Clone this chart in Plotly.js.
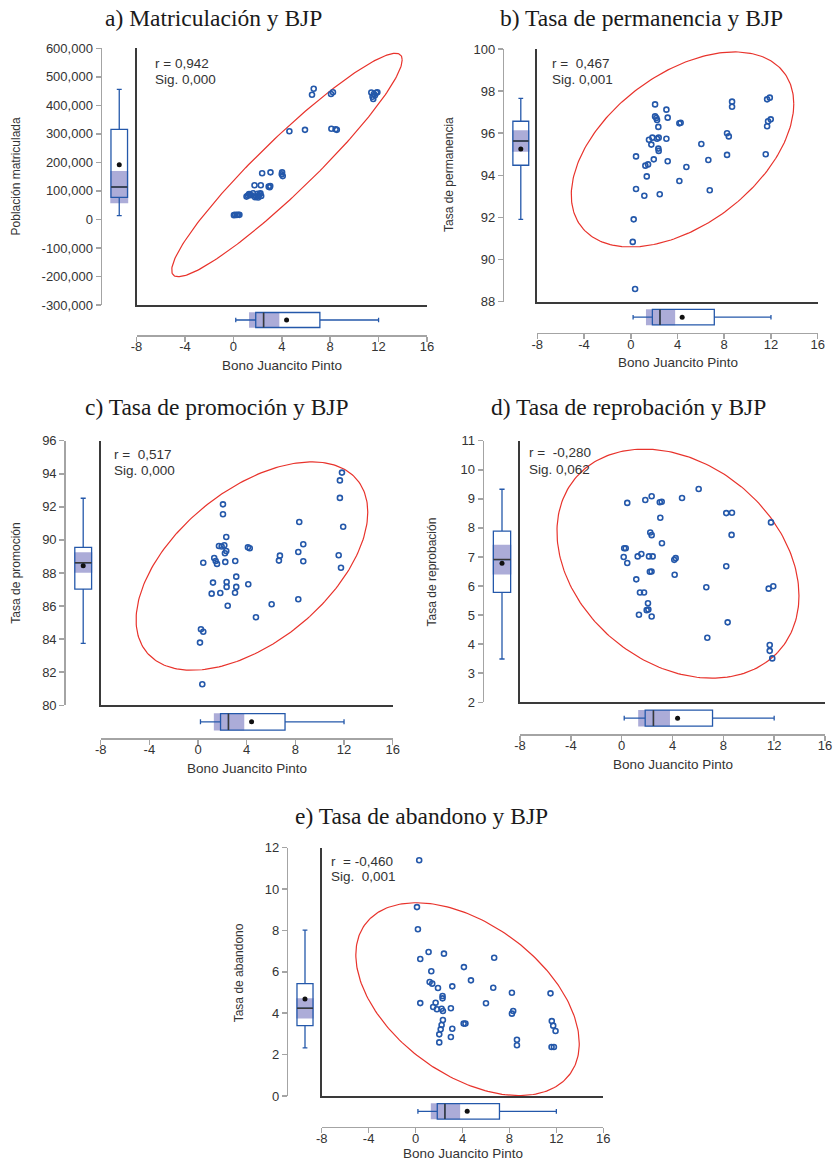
<!DOCTYPE html>
<html><head><meta charset="utf-8">
<script src="https://cdn.plot.ly/plotly-3.0.1.min.js"></script>
<style>html,body{margin:0;padding:0;background:#fff}#chart{width:834px;height:1161px}</style>
</head><body><div id="chart"></div>
<script>
// ---------------- DATA ----------------
const xTickVals = [-8,-4,0,4,8,12,16];
const xTickText = ['-8','-4','0','4','8','12','16'];

const titles = ['a) Matriculación y BJP','b) Tasa de permanencia y BJP','c) Tasa de promoción y BJP','d) Tasa de reprobación y BJP','e) Tasa de abandono y BJP'];
const yTitles = ['Población matriculada','Tasa de permanencia','Tasa de promoción','Tasa de reprobación','Tasa de abandono'];
const xTitle = 'Bono Juancito Pinto';
const rTexts = ['r = 0,942','r =  0,467','r =  0,517','r =  -0,280','r  = -0,460'];
const sigTexts = ['Sig. 0,000','Sig. 0,001','Sig. 0,000','Sig. 0,062','Sig.  0,001'];

const yTickValsA = [-300000,-200000,-100000,0,100000,200000,300000,400000,500000,600000];
const yTickTextA = ['-300,000','-200,000','-100,000','0','100,000','200,000','300,000','400,000','500,000','600,000'];
const yTickValsB = [88,90,92,94,96,98,100];
const yTickValsC = [80,82,84,86,88,90,92,94,96];
const yTickValsD = [2,3,4,5,6,7,8,9,10,11];
const yTickValsE = [0,2,4,6,8,10,12];

const xA = [0.05,0.15,0.28,0.38,0.5, 1.09,1.3,1.63,1.91,2.05,2.19,2.24,1.36,2.1,1.2,1.5,2.0,1.8,2.3, 1.75,2.27, 2.92,3.0,3.05, 2.38,3.07,4.03,4.08,4.0, 4.63,5.92,8.1,8.45,8.55, 6.64,6.5,8.07,8.23, 11.4,11.61,11.81,11.5,11.56,11.9,11.7];
const yA = [15000,16000,15500,16500,16000, 80000,89000,92000,80000,77000,89000,92000,86000,83000,84000,85000,90000,78000,82000, 120000,120000, 115000,113000,117000, 162000,165000,165000,152000,158000, 309000,314000,318000,316000,314000, 458000,437000,440000,446000, 445000,440000,444000,430000,422000,446000,435000];

const xB = [2.08,3.05,8.67,8.67,11.67,11.9,2.08,2.19,2.25,3.16,4.16,4.27,2.36,11.75,11.98,11.67,1.85,1.56,2.25,2.39,3.05,1.76,2.36,2.39,6.04,8.24,8.39,0.45,1.97,3.16,6.64,8.24,11.55,1.25,1.48,4.76,1.37,4.16,0.45,1.16,2.48,6.76,0.25,0.17,0.37];
const yB = [97.37,97.12,97.5,97.26,97.61,97.69,96.8,96.72,96.63,96.74,96.47,96.5,96.3,96.57,96.66,96.33,95.79,95.69,95.74,95.79,95.74,95.46,95.27,95.16,95.49,96.0,95.85,94.9,94.76,94.67,94.73,94.97,95.0,94.46,94.52,94.4,93.95,93.73,93.35,93.03,93.1,93.29,91.91,90.84,88.6];

const xC = [11.83,11.66,11.66,11.93,2.05,2.05,8.32,2.32,1.72,1.94,2.16,2.32,2.21,4.1,4.25,8.65,8.24,6.73,6.65,8.65,11.56,11.75,0.43,1.33,1.45,1.56,2.24,3.06,3.14,1.23,2.35,2.35,3.14,4.13,1.12,1.83,3.04,2.44,8.24,6.05,4.76,0.24,0.43,0.16,0.35];
const yC = [94.07,93.6,92.54,90.8,92.15,91.55,91.08,90.18,89.63,89.6,89.68,89.33,89.19,89.55,89.5,89.74,89.27,89.05,88.75,88.71,89.07,88.32,88.62,88.91,88.73,88.55,88.67,88.73,87.78,87.42,87.46,87.16,87.16,87.32,86.75,86.79,86.81,86.02,86.41,86.11,85.32,84.6,84.45,83.79,81.27];

const xD = [6.06,0.44,1.86,2.36,3.0,3.15,4.75,8.23,8.68,11.75,3.04,2.25,2.36,8.65,3.17,0.2,0.32,0.16,1.26,1.55,2.15,2.44,4.14,4.25,0.44,8.23,2.22,2.35,4.17,1.15,6.66,11.57,11.93,1.44,1.76,2.07,1.97,2.1,1.36,2.36,8.34,6.74,11.65,11.65,11.85];
const yD = [9.34,8.86,8.96,9.09,8.88,8.9,9.03,8.51,8.52,8.19,8.35,7.84,7.75,7.76,7.47,7.3,7.3,7.0,7.02,7.1,7.02,7.02,6.9,6.96,6.79,6.68,6.49,6.5,6.39,6.23,5.96,5.91,5.99,5.78,5.78,5.41,5.17,5.19,5.01,4.95,4.75,4.22,3.97,3.77,3.51];

const xE = [0.31,0.12,0.2,1.11,2.42,0.4,6.7,1.34,4.12,1.2,1.42,4.72,1.91,3.13,6.62,8.21,11.5,2.3,2.3,0.4,1.71,6.0,1.5,1.82,2.22,2.33,3.01,8.32,8.21,2.33,2.22,2.14,2.02,2.02,3.13,3.01,4.1,4.25,11.61,11.73,11.93,8.64,8.64,11.59,11.79];
const yE = [11.39,9.13,8.06,6.96,6.88,6.62,6.68,6.03,6.23,5.51,5.43,5.59,5.22,5.3,5.23,4.99,4.96,4.83,4.72,4.49,4.51,4.48,4.3,4.19,4.22,4.11,4.24,4.11,3.98,3.67,3.43,3.22,2.98,2.59,3.25,2.85,3.5,3.5,3.62,3.4,3.14,2.72,2.45,2.37,2.37];

// box statistics: [lowerWhisker, q1, median, q3, upperWhisker, mean, ciLow, ciHigh]
const statsBJP = [0.2, 1.85, 2.5, 7.15, 12.0, 4.4, 1.3, 3.8];
const statsA = [13100, 77600, 113700, 316000, 456200, 192000, 56500, 169800];
const statsB = [91.91, 94.48, 95.63, 96.57, 97.66, 95.25, 95.12, 96.14];
const statsC = [83.75, 87.03, 88.62, 89.55, 92.52, 88.44, 88.02, 89.25];
const statsD = [3.49, 5.78, 6.91, 7.89, 9.33, 6.78, 6.40, 7.42];
const statsE = [2.33, 3.40, 4.24, 5.43, 8.02, 4.69, 3.75, 4.72];

// concentration ellipse statistics: [meanX, sdX, meanY, sdY, r]
const ellA = [4.43, 3.89, 190850, 160000, 0.942];
const ellB = [4.43, 3.89, 95.23, 1.892, 0.467];
const ellC = [4.43, 3.89, 88.42, 2.574, 0.517];
const ellD = [4.43, 3.89, 6.77, 1.610, -0.280];
const ellE = [4.43, 3.89, 4.68, 1.904, -0.460];

// ---------------- LAYOUT GEOMETRY (px) ----------------
const W = 834, H = 1161;
const geom = [
 {tyl:102, ml:136.5, mr:427, top:48.3, bot:305, txl:335, tx:213, ty:18, ytx:15.7, yty:176.7, xty:365, ax:153.3, ay1:63.3, ay2:80},
 {tyl:504.3, ml:537.3, mr:817.7, top:49, bot:301.7, txl:332.7, tx:641, ty:18, ytx:449, yty:175, xty:362, ax:550, ay1:63.3, ay2:79},
 {tyl:65.7, ml:100.7, mr:392.7, top:440.7, bot:705.3, txl:738.3, tx:217, ty:407, ytx:15.7, yty:573, xty:768, ax:111.7, ay1:454.3, ay2:470.7},
 {tyl:484, ml:520, mr:825, top:440.7, bot:702.3, txl:734, tx:628, ty:407, ytx:431.7, yty:571.7, xty:765, ax:527.3, ay1:452.7, ay2:469},
 {tyl:288.3, ml:321.7, mr:603.3, top:847.7, bot:1096, txl:1126.7, tx:421, ty:816, ytx:239.3, yty:973, xty:1153.5, ax:329.3, ay1:861, ay2:876.3}
];

const panels = [
 {x:xA, y:yA, stats:statsA, ell:ellA, tv:yTickValsA, tt:yTickTextA, yr:[-300000,600000]},
 {x:xB, y:yB, stats:statsB, ell:ellB, tv:yTickValsB, tt:yTickValsB.map(String), yr:[88,100]},
 {x:xC, y:yC, stats:statsC, ell:ellC, tv:yTickValsC, tt:yTickValsC.map(String), yr:[80,96]},
 {x:xD, y:yD, stats:statsD, ell:ellD, tv:yTickValsD, tt:yTickValsD.map(String), yr:[2,11]},
 {x:xE, y:yE, stats:statsE, ell:ellE, tv:yTickValsE, tt:yTickValsE.map(String), yr:[0,12]}
];

// ---------------- STYLES ----------------
const SANS = 'Liberation Sans, Arial, sans-serif';
const SERIF = 'Liberation Serif, Times New Roman, serif';
const BLUE = '#2458aa';
const SHADE = '#acacd8';
const TICKFONT = {family:SANS, size:13, color:'#333'};
const GRAY = '#a4a4a4';
const BOXW = 0.48, CIW = 0.52, CAP = 0.3;
const K = Math.sqrt(5.991);

const px2x = v => v / W;
const px2y = v => 1 - v / H;
const id = n => n === 1 ? '' : String(n);

const data = [];
const layout = {
  width: W, height: H, margin:{l:0,r:0,t:0,b:0},
  paper_bgcolor:'#fff', plot_bgcolor:'rgba(0,0,0,0)',
  showlegend:false, hovermode:false, annotations:[]
};

panels.forEach((P, p) => {
  const g = geom[p];
  const n1 = 3*p+1, n2 = 3*p+2, n3 = 3*p+3;
  const xDom = [px2x(g.ml), px2x(g.mr)];
  const yDom = [px2y(g.bot), px2y(g.top)];
  const plain = {showgrid:false, zeroline:false, fixedrange:true};

  layout['xaxis'+id(n1)] = Object.assign({domain:xDom, range:[-8,16], anchor:'y'+id(n1),
    showline:true, linecolor:'#3a3a3a', linewidth:2, ticks:'', showticklabels:false}, plain);
  layout['yaxis'+id(n1)] = Object.assign({domain:yDom, range:P.yr, anchor:'x'+id(n1),
    showline:true, linecolor:'#3a3a3a', linewidth:2, ticks:'', showticklabels:false}, plain);

  layout['xaxis'+id(n2)] = Object.assign({domain:[px2x(g.tyl), px2x(g.ml)], range:[0,1], anchor:'y'+id(n2), visible:false}, plain);
  layout['yaxis'+id(n2)] = Object.assign({domain:yDom, range:P.yr, anchor:'x'+id(n2), side:'left',
    showline:true, linecolor:GRAY, linewidth:1.5, ticks:'outside', ticklen:5, tickwidth:1.5, tickcolor:GRAY,
    tickmode:'array', tickvals:P.tv, ticktext:P.tt, tickfont:TICKFONT}, plain);

  layout['xaxis'+id(n3)] = Object.assign({domain:xDom, range:[-8,16], anchor:'y'+id(n3), side:'bottom',
    showline:true, linecolor:GRAY, linewidth:1.5, ticks:'outside', ticklen:5, tickwidth:1.5, tickcolor:GRAY,
    ticklabelstandoff:-6,
    tickmode:'array', tickvals:xTickVals, ticktext:xTickText, tickfont:TICKFONT}, plain);
  layout['yaxis'+id(n3)] = Object.assign({domain:[px2y(g.txl), px2y(g.bot)], range:[0,1], anchor:'x'+id(n3), visible:false}, plain);

  // ellipse from summary statistics
  const [mx, sx, my, sy, r] = P.ell;
  const ex = [], ey = [];
  for (let i = 0; i <= 240; i++) {
    const t = 2*Math.PI*i/240;
    ex.push(mx + K*sx*Math.cos(t));
    ey.push(my + K*sy*(r*Math.cos(t) + Math.sqrt(1-r*r)*Math.sin(t)));
  }
  data.push({type:'scatter', mode:'lines', x:ex, y:ey, xaxis:'x'+id(n1), yaxis:'y'+id(n1),
    line:{color:'#e8332c', width:1.2}, hoverinfo:'skip'});
  data.push({type:'scatter', mode:'markers', x:P.x, y:P.y, xaxis:'x'+id(n1), yaxis:'y'+id(n1),
    marker:{symbol:'circle-open', size:5, color:BLUE, line:{width:1.6, color:BLUE}}, hoverinfo:'skip'});

  // vertical box (Y variable)
  const s = P.stats;
  data.push({type:'bar', x:[0.5], y:[s[7]-s[6]], base:[s[6]], width:[CIW], xaxis:'x'+id(n2), yaxis:'y'+id(n2),
    marker:{color:SHADE, line:{width:0}}, hoverinfo:'skip'});
  data.push({type:'box', x:[0.5], lowerfence:[s[0]], q1:[s[1]], median:[s[2]], q3:[s[3]], upperfence:[s[4]],
    boxpoints:false, width:BOXW, whiskerwidth:CAP, fillcolor:'rgba(0,0,0,0)', line:{color:BLUE, width:1.3},
    xaxis:'x'+id(n2), yaxis:'y'+id(n2), hoverinfo:'skip'});
  data.push({type:'scatter', mode:'lines', x:[0.5-BOXW/2, 0.5+BOXW/2], y:[s[2], s[2]], xaxis:'x'+id(n2), yaxis:'y'+id(n2),
    line:{color:'#3a3a3a', width:1.5}, hoverinfo:'skip'});
  data.push({type:'scatter', mode:'markers', x:[0.5], y:[s[5]], xaxis:'x'+id(n2), yaxis:'y'+id(n2),
    marker:{color:'#111', size:5}, hoverinfo:'skip'});

  // horizontal box (BJP)
  const b = statsBJP;
  data.push({type:'bar', orientation:'h', y:[0.5], x:[b[7]-b[6]], base:[b[6]], width:[CIW], xaxis:'x'+id(n3), yaxis:'y'+id(n3),
    marker:{color:SHADE, line:{width:0}}, hoverinfo:'skip'});
  data.push({type:'box', orientation:'h', y:[0.5], lowerfence:[b[0]], q1:[b[1]], median:[b[2]], q3:[b[3]], upperfence:[b[4]],
    boxpoints:false, width:BOXW+0.02, whiskerwidth:CAP, fillcolor:'rgba(0,0,0,0)', line:{color:BLUE, width:1.3},
    xaxis:'x'+id(n3), yaxis:'y'+id(n3), hoverinfo:'skip'});
  data.push({type:'scatter', mode:'lines', y:[0.5-(BOXW+0.02)/2, 0.5+(BOXW+0.02)/2], x:[b[2], b[2]], xaxis:'x'+id(n3), yaxis:'y'+id(n3),
    line:{color:'#3a3a3a', width:1.5}, hoverinfo:'skip'});
  data.push({type:'scatter', mode:'markers', x:[b[5]], y:[0.5], xaxis:'x'+id(n3), yaxis:'y'+id(n3),
    marker:{color:'#111', size:5}, hoverinfo:'skip'});

  // text
  const A = layout.annotations;
  A.push({xref:'paper', yref:'paper', x:px2x(g.tx), y:px2y(g.ty), text:titles[p], showarrow:false,
    xanchor:'center', yanchor:'middle', font:{family:SERIF, size:23.5, color:'#1a1a1a'}});
  A.push({xref:'paper', yref:'paper', x:px2x(g.ytx), y:px2y(g.yty), text:yTitles[p], showarrow:false, textangle:-90,
    xanchor:'center', yanchor:'middle', font:{family:SANS, size:12, color:'#333'}});
  A.push({xref:'paper', yref:'paper', x:(xDom[0]+xDom[1])/2, y:px2y(g.xty), text:xTitle, showarrow:false,
    xanchor:'center', yanchor:'middle', font:{family:SANS, size:13.5, color:'#333'}});
  A.push({xref:'paper', yref:'paper', x:px2x(g.ax), y:px2y(g.ay1), text:rTexts[p].replace(/  /g,' \u00a0'), showarrow:false,
    xanchor:'left', yanchor:'middle', font:{family:SANS, size:13.5, color:'#333'}});
  A.push({xref:'paper', yref:'paper', x:px2x(g.ax), y:px2y(g.ay2), text:sigTexts[p].replace(/  /g,' \u00a0'), showarrow:false,
    xanchor:'left', yanchor:'middle', font:{family:SANS, size:13.5, color:'#333'}});
});

Plotly.newPlot('chart', data, layout, {staticPlot:true, displayModeBar:false});
</script>
</body></html>
